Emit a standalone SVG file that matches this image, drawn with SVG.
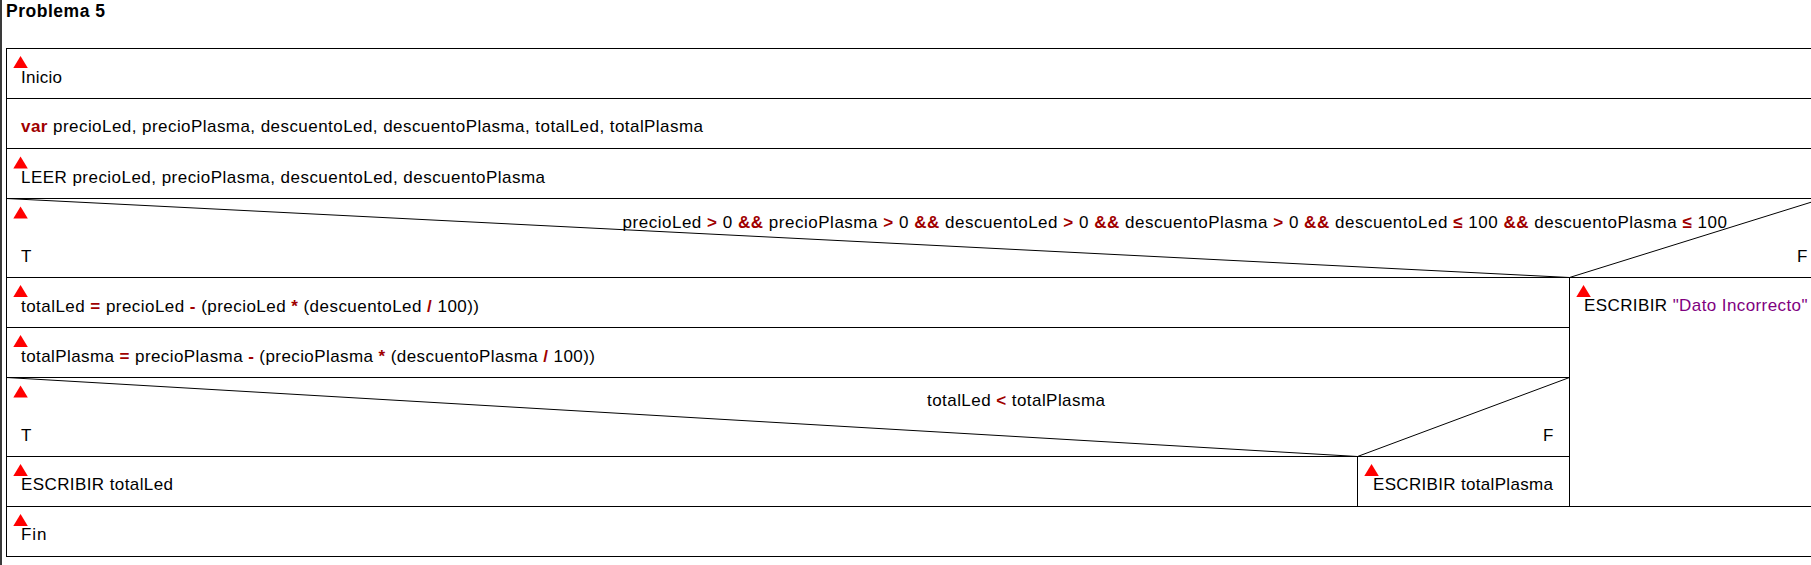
<svg xmlns="http://www.w3.org/2000/svg" width="1811" height="565" viewBox="0 0 1811 565">
<style>
text{font-family:"Liberation Sans",Arial,sans-serif;font-size:17px;fill:#000}
.title{font-weight:bold;font-size:17.5px}
.op{font-weight:bold;fill:#a00000}
.str{fill:#800080}
.ln{stroke:#000;stroke-width:1;fill:none}
.box{stroke:#000;stroke-width:1;fill:#fff}
.tri{fill:#ff0000}
</style>
<defs>
<polygon id="tri" class="tri" points="0,12 14.5,12 7.25,0"/>
</defs>
<rect x="0" y="0" width="1811" height="565" fill="#fff"/>
<rect x="0" y="0" width="2" height="565" fill="#3a3a3a"/>
<text class="title" x="6" y="17" textLength="99" lengthAdjust="spacing">Problema 5</text>

<g id="inicio">
<rect class="box" x="6.5" y="48.5" width="1830" height="50"/>
<use href="#tri" x="13.3" y="56"/>
<text x="21" y="83" textLength="41" lengthAdjust="spacing">Inicio</text>
</g>
<g id="var">
<rect class="box" x="6.5" y="98.5" width="1830" height="50"/>
<text x="21" y="132" textLength="682" lengthAdjust="spacing"><tspan class="op">var</tspan> precioLed, precioPlasma, descuentoLed, descuentoPlasma, totalLed, totalPlasma</text>
</g>
<g id="leer">
<rect class="box" x="6.5" y="148.5" width="1830" height="50"/>
<use href="#tri" x="13.3" y="156.5"/>
<text x="21" y="183" textLength="524" lengthAdjust="spacing">LEER precioLed, precioPlasma, descuentoLed, descuentoPlasma</text>
</g>
<g id="if1">
<rect class="box" x="6.5" y="198.5" width="1830" height="79"/>
<use href="#tri" x="13.3" y="206.5"/>
<text x="622.5" y="228" textLength="1104.5" lengthAdjust="spacing">precioLed <tspan class="op">&gt;</tspan> 0 <tspan class="op">&amp;&amp;</tspan> precioPlasma <tspan class="op">&gt;</tspan> 0 <tspan class="op">&amp;&amp;</tspan> descuentoLed <tspan class="op">&gt;</tspan> 0 <tspan class="op">&amp;&amp;</tspan> descuentoPlasma <tspan class="op">&gt;</tspan> 0 <tspan class="op">&amp;&amp;</tspan> descuentoLed <tspan class="op">≤</tspan> 100 <tspan class="op">&amp;&amp;</tspan> descuentoPlasma <tspan class="op">≤</tspan> 100</text>
<text x="21" y="262">T</text>
<text x="1797" y="262">F</text>
</g>
<g id="assignLed">
<rect class="box" x="6.5" y="277.5" width="1563" height="50"/>
<use href="#tri" x="13.3" y="285"/>
<text x="21" y="312" textLength="458" lengthAdjust="spacing">totalLed <tspan class="op">=</tspan> precioLed <tspan class="op">-</tspan> (precioLed <tspan class="op">*</tspan> (descuentoLed <tspan class="op">/</tspan> 100))</text>
</g>
<g id="assignPlasma">
<rect class="box" x="6.5" y="327.5" width="1563" height="50"/>
<use href="#tri" x="13.3" y="335"/>
<text x="21" y="362" textLength="574" lengthAdjust="spacing">totalPlasma <tspan class="op">=</tspan> precioPlasma <tspan class="op">-</tspan> (precioPlasma <tspan class="op">*</tspan> (descuentoPlasma <tspan class="op">/</tspan> 100))</text>
</g>
<g id="if2">
<rect class="box" x="6.5" y="377.5" width="1563" height="79"/>
<use href="#tri" x="13.3" y="385.5"/>
<text x="927" y="406" textLength="178" lengthAdjust="spacing">totalLed <tspan class="op">&lt;</tspan> totalPlasma</text>
<text x="21" y="441">T</text>
<text x="1543" y="441">F</text>
</g>
<g id="escribirLed">
<rect class="box" x="6.5" y="456.5" width="1351" height="50"/>
<use href="#tri" x="13.3" y="464"/>
<text x="21" y="490" textLength="152" lengthAdjust="spacing">ESCRIBIR totalLed</text>
</g>
<g id="escribirPlasma">
<rect class="box" x="1357.5" y="456.5" width="212" height="50"/>
<use href="#tri" x="1364.3" y="464"/>
<text x="1373" y="490" textLength="180" lengthAdjust="spacing">ESCRIBIR totalPlasma</text>
</g>
<g id="escribirError">
<rect class="box" x="1569.5" y="277.5" width="260" height="229"/>
<use href="#tri" x="1576.3" y="285"/>
<text x="1584" y="311" textLength="223.5" lengthAdjust="spacing">ESCRIBIR <tspan class="str">"Dato Incorrecto"</tspan></text>
</g>
<g id="fin">
<rect class="box" x="6.5" y="506.5" width="1830" height="50"/>
<use href="#tri" x="13.3" y="514"/>
<text x="21" y="540" textLength="25.5" lengthAdjust="spacing">Fin</text>
</g>
<g id="connectors">
<line class="ln" x1="6.5" y1="198.5" x2="1569.5" y2="277.5"/>
<line class="ln" x1="1569.5" y1="277.5" x2="1823" y2="198.5"/>
<line class="ln" x1="6.5" y1="377.5" x2="1357.5" y2="456.5"/>
<line class="ln" x1="1357.5" y1="456.5" x2="1569.5" y2="377.5"/>
</g>
</svg>
